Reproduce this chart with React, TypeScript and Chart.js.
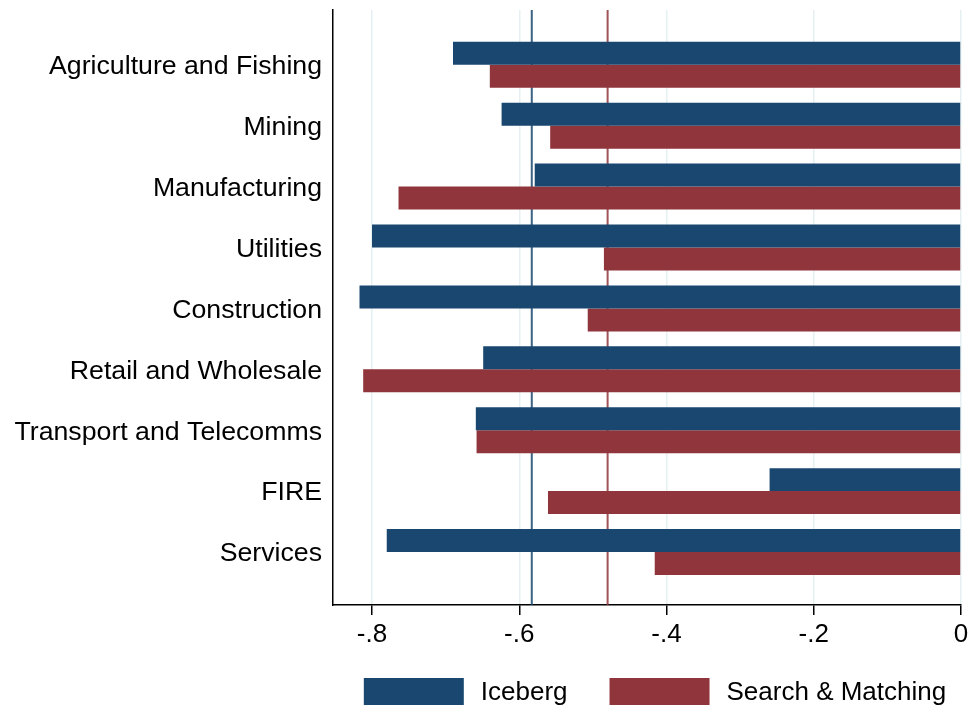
import { useEffect, useRef } from 'react';
import { Chart, registerables } from 'chart.js';

Chart.register(...registerables);

const sectors = [
  'Agriculture and Fishing',
  'Mining',
  'Manufacturing',
  'Utilities',
  'Construction',
  'Retail and Wholesale',
  'Transport and Telecomms',
  'FIRE',
  'Services',
];
const iceberg = [-0.69, -0.624, -0.579, -0.8, -0.817, -0.649, -0.659, -0.26, -0.78];
const searchMatching = [-0.64, -0.558, -0.764, -0.485, -0.507, -0.812, -0.658, -0.561, -0.416];
const seriesNames = ['Iceberg', 'Search & Matching'];
const averageLines = [-0.583, -0.48];
const xTickValues = [-0.8, -0.6, -0.4, -0.2, 0];
const xRange = [-0.853, 0];

const BLUE = '#1a476f';
const RED = '#90353b';
const COLORS = [BLUE, RED];
const FONT = '"Liberation Sans", Arial, Helvetica, sans-serif';
const FS = 26;
const FS_Y = 26.7;

const fmtTick = (v: number) => {
  if (Math.abs(v) < 1e-9) return '0';
  const s = v.toFixed(1);
  return s.replace('0.', '.');
};

const refLinesPlugin = {
  id: 'refLines',
  beforeDatasetsDraw(chart: any) {
    const { ctx, chartArea, scales } = chart;
    ctx.save();
    averageLines.forEach((v, i) => {
      const x = scales.x.getPixelForValue(v);
      ctx.strokeStyle = COLORS[i];
      ctx.globalAlpha = 0.85;
      ctx.lineWidth = 2;
      ctx.beginPath();
      ctx.moveTo(x, chartArea.top);
      ctx.lineTo(x, chartArea.bottom);
      ctx.stroke();
    });
    ctx.restore();
  },
};

const legendPlugin = {
  id: 'customLegend',
  afterDraw(chart: any) {
    const { ctx, chartArea } = chart;
    ctx.save();
    ctx.font = `${FS}px ${FONT}`;
    const boxW = 100;
    const boxH = 27;
    const gapText = 17;
    const gapItem = 42;
    const widths = seriesNames.map((n) => ctx.measureText(n).width);
    const total =
      widths.reduce((a, w) => a + boxW + gapText + w, 0) + gapItem * (seriesNames.length - 1);
    let x = (chartArea.left + chartArea.right) / 2 - total / 2 + 8;
    const yTop = 678;
    seriesNames.forEach((n, i) => {
      ctx.fillStyle = COLORS[i];
      ctx.fillRect(x, yTop, boxW, boxH);
      ctx.fillStyle = '#000';
      ctx.textBaseline = 'middle';
      ctx.textAlign = 'left';
      ctx.fillText(n, x + boxW + gapText, yTop + boxH / 2 + 1);
      x += boxW + gapText + widths[i] + gapItem;
    });
    ctx.restore();
  },
};

export default function App() {
  const ref = useRef<HTMLCanvasElement | null>(null);

  useEffect(() => {
    if (!ref.current) return;
    Chart.defaults.font.family = FONT;
    Chart.defaults.color = '#000';
    const chart = new Chart(ref.current, {
      type: 'bar',
      data: {
        datasets: [
          {
            label: seriesNames[0],
            data: iceberg.map((v, i) => ({ x: v, y: i })),
            backgroundColor: BLUE,
            borderWidth: 0,
          },
          {
            label: seriesNames[1],
            data: searchMatching.map((v, i) => ({ x: v, y: i })),
            backgroundColor: RED,
            borderWidth: 0,
          },
        ],
      },
      options: {
        indexAxis: 'y',
        responsive: false,
        devicePixelRatio: 1,
        animation: false,
        datasets: {
          bar: {
            categoryPercentage: 0.755,
            barPercentage: 1,
          },
        },
        layout: { padding: { top: 10, right: 16, left: 0, bottom: 56 } },
        plugins: {
          legend: { display: false },
          tooltip: { enabled: false },
        },
        scales: {
          x: {
            type: 'linear',
            position: 'bottom',
            min: xRange[0],
            max: xRange[1],
            afterBuildTicks: (axis: any) => {
              axis.ticks = xTickValues.map((v) => ({ value: v }));
            },
            afterFit: (axis: any) => {
              axis.height = 50;
              axis.paddingLeft = 0;
              axis.paddingRight = 0;
            },
            ticks: {
              font: { size: FS },
              padding: 4,
              maxRotation: 0,
              autoSkip: false,
              callback: (v: any) => fmtTick(Number(v)),
            },
            grid: {
              color: '#e6eff1',
              lineWidth: 1.5,
              tickColor: '#000',
              tickLength: 10,
              tickWidth: 1.5,
            },
            border: { display: true, color: '#000', width: 1.5 },
          },
          y: {
            type: 'linear',
            reverse: true,
            offset: false,
            min: -0.9,
            max: 8.87,
            afterBuildTicks: (axis: any) => {
              axis.ticks = sectors.map((_, i) => ({ value: i }));
            },
            afterFit: (axis: any) => {
              axis.width = 333;
              axis.paddingTop = 0;
              axis.paddingBottom = 0;
            },
            ticks: {
              font: { size: FS_Y },
              padding: 11,
              labelOffset: 2,
              autoSkip: false,
              callback: (v: any) => sectors[Number(v)] ?? '',
            },
            grid: { display: false, drawTicks: false, offset: false },
            border: { display: true, color: '#000', width: 1.5 },
          },
        },
      },
      plugins: [refLinesPlugin, legendPlugin],
    } as any);
    return () => chart.destroy();
  }, []);

  return (
    <div style={{ position: 'fixed', left: 0, top: 0, width: 977, height: 711, background: '#fff' }}>
      <canvas ref={ref} width={977} height={711} style={{ width: 977, height: 711 }} />
    </div>
  );
}
